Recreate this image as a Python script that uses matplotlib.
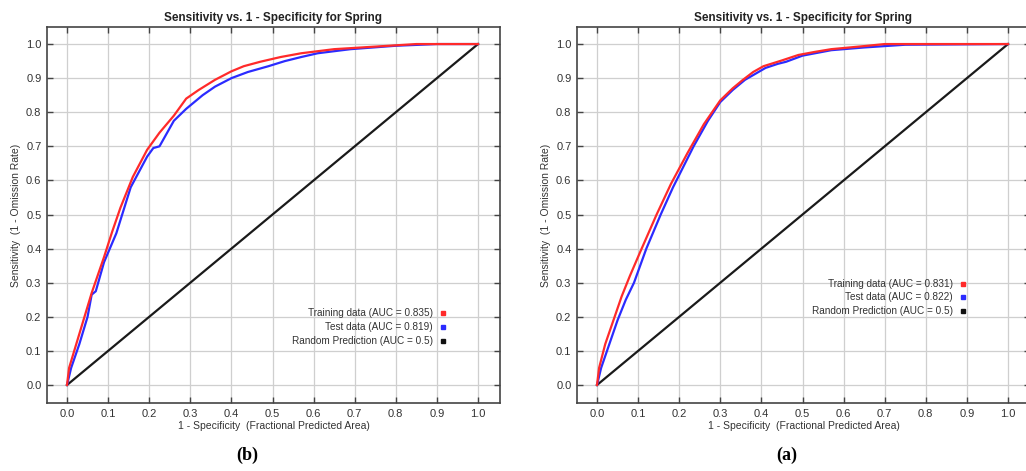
import matplotlib
matplotlib.use("Agg")
import matplotlib.pyplot as plt

# ---------------- data ----------------
ticks = [0.0, 0.1, 0.2, 0.3, 0.4, 0.5, 0.6, 0.7, 0.8, 0.9, 1.0]
tick_labels = ["0.0", "0.1", "0.2", "0.3", "0.4", "0.5", "0.6", "0.7", "0.8", "0.9", "1.0"]

# panel (b)
train_b_x = [0, 0.005, 0.02, 0.04, 0.06, 0.09, 0.11, 0.13, 0.16, 0.195, 0.225, 0.26, 0.29, 0.32,
             0.36, 0.40, 0.43, 0.47, 0.52, 0.57, 0.65, 0.73, 0.85, 1.0]
train_b_y = [0, 0.05, 0.11, 0.19, 0.27, 0.375, 0.45, 0.52, 0.61, 0.69, 0.74, 0.79, 0.84, 0.865,
             0.895, 0.92, 0.935, 0.948, 0.962, 0.973, 0.985, 0.991, 1.0, 1.0]
test_b_x = [0, 0.01, 0.03, 0.05, 0.06, 0.07, 0.09, 0.12, 0.155, 0.195, 0.21, 0.225, 0.26, 0.29,
            0.31, 0.33, 0.36, 0.40, 0.44, 0.49, 0.53, 0.57, 0.61, 0.69, 0.80, 0.9, 1.0]
test_b_y = [0, 0.05, 0.12, 0.2, 0.265, 0.275, 0.36, 0.445, 0.58, 0.67, 0.695, 0.70, 0.775, 0.81,
            0.83, 0.85, 0.875, 0.90, 0.918, 0.935, 0.95, 0.962, 0.973, 0.985, 0.995, 1.0, 1.0]

# panel (a)
train_a_x = [0, 0.005, 0.02, 0.04, 0.06, 0.08, 0.105, 0.145, 0.18, 0.22, 0.26, 0.30, 0.33, 0.355,
             0.38, 0.405, 0.45, 0.49, 0.53, 0.57, 0.65, 0.70, 1.0]
train_a_y = [0, 0.05, 0.12, 0.19, 0.26, 0.32, 0.39, 0.50, 0.59, 0.68, 0.765, 0.835, 0.87, 0.895,
             0.918, 0.935, 0.952, 0.968, 0.977, 0.985, 0.994, 1.0, 1.0]
test_a_x = [0, 0.01, 0.03, 0.05, 0.07, 0.09, 0.12, 0.155, 0.185, 0.235, 0.27, 0.30, 0.33, 0.36,
            0.41, 0.44, 0.46, 0.50, 0.57, 0.65, 0.75, 1.0]
test_a_y = [0, 0.05, 0.12, 0.19, 0.25, 0.30, 0.40, 0.50, 0.58, 0.70, 0.775, 0.83, 0.865, 0.895,
            0.93, 0.942, 0.948, 0.966, 0.982, 0.99, 0.998, 1.0]

random_x = [0.0, 1.0]
random_y = [0.0, 1.0]

auc_b = {"train": "0.835", "test": "0.819", "random": "0.5"}
auc_a = {"train": "0.831", "test": "0.822", "random": "0.5"}

title = "Sensitivity vs. 1 - Specificity for Spring"
xlabel = "1 - Specificity  (Fractional Predicted Area)"
ylabel = "Sensitivity  (1 - Omission Rate)"

# ---------------- plotting ----------------
plt.rcParams['font.family'] = ['Liberation Sans', 'DejaVu Sans']

fig = plt.figure(figsize=(10.26, 4.71), dpi=100)

W, H = 1026, 471
def axes_rect(left_px, right_px, top_px, bottom_px):
    return [left_px / W, (H - bottom_px) / H, (right_px - left_px) / W, (bottom_px - top_px) / H]

ax_b = fig.add_axes(axes_rect(47, 500, 27, 403))
ax_a = fig.add_axes(axes_rect(577, 1030, 27, 403))

RED = "#ff2a2a"
BLUE = "#2b2bff"
TXT = "#333333"

def draw(ax, trx, tr_y, tex, te_y, auc, leg_x, leg_ys):
    ax.set_xlim(-0.0487, 1.0535)
    ax.set_ylim(-0.0528, 1.05)
    ax.set_xticks(ticks)
    ax.set_xticklabels(tick_labels)
    ax.set_yticks(ticks)
    ax.set_yticklabels(tick_labels)
    ax.grid(True, color="#cfcfcf", linewidth=0.9)
    ax.set_axisbelow(True)
    ax.tick_params(direction="in", length=4, width=1, top=True, right=True,
                   labelsize=8, labelcolor=TXT, color="#444444")
    ax.tick_params(axis="x", pad=4)
    ax.tick_params(axis="y", pad=4)
    for s in ax.spines.values():
        s.set_color("#444444")
        s.set_linewidth(1.2)
    ax.plot(random_x, random_y, color="#1a1a1a", lw=1.6, zorder=3)
    ax.plot(tex, te_y, color=BLUE, lw=1.6, zorder=4)
    ax.plot(trx, tr_y, color=RED, lw=1.6, zorder=5)
    ax.set_title(title, fontsize=8.5, fontweight="bold", color="#222222", pad=4)
    ax.set_xlabel(xlabel, fontsize=7.5, color=TXT, labelpad=2)
    ax.set_ylabel(ylabel, fontsize=7.5, color=TXT, labelpad=4)
    labels = [f"Training data (AUC = {auc['train']})",
              f"Test data (AUC = {auc['test']})",
              f"Random Prediction (AUC = {auc['random']})"]
    cols = [RED, BLUE, "#111111"]
    for lab, c, yy in zip(labels, cols, leg_ys):
        ax.text(leg_x, yy, lab, transform=ax.transAxes, ha="right", va="center",
                fontsize=7.2, color=TXT)
        ax.plot([leg_x + 0.022], [yy], marker="s", ms=3.5, color=c,
                transform=ax.transAxes, clip_on=False, zorder=6)

draw(ax_b, train_b_x, train_b_y, test_b_x, test_b_y, auc_b, 0.852, [0.239, 0.202, 0.165])
draw(ax_a, train_a_x, train_a_y, test_a_x, test_a_y, auc_a, 0.83, [0.316, 0.281, 0.246])

fig.text(247 / W, 1 - 455 / H, "(b)", ha="center", va="center", fontsize=13,
         fontweight="bold", family=["Liberation Serif", "DejaVu Serif"])
fig.text(787 / W, 1 - 455 / H, "(a)", ha="center", va="center", fontsize=13,
         fontweight="bold", family=["Liberation Serif", "DejaVu Serif"])

fig.savefig("out.png", dpi=100)
